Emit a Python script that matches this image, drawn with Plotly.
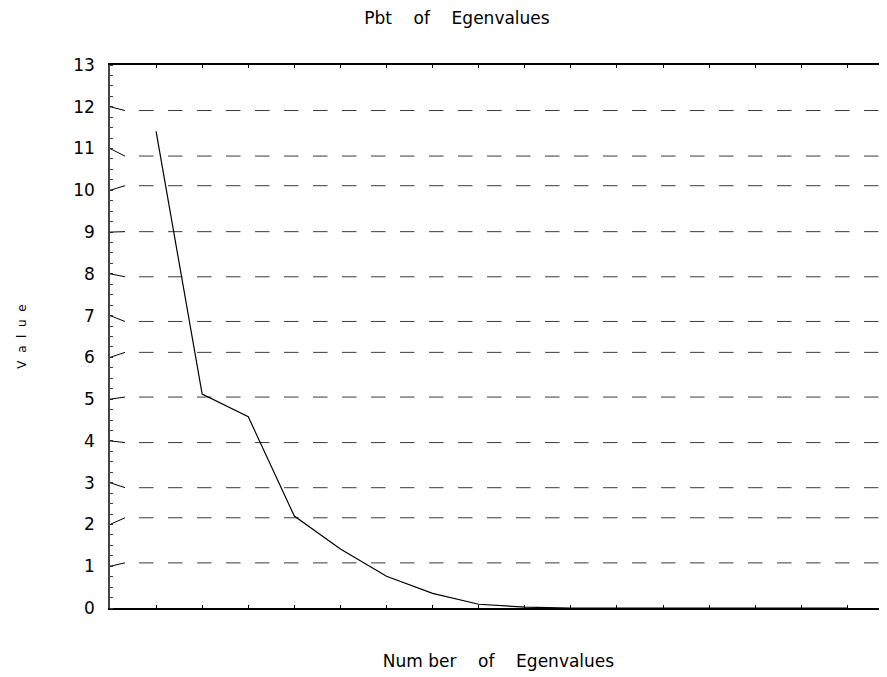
import plotly.graph_objects as go

# Data
component_numbers = list(range(1, 17))
eigenvalues = [11.41, 5.12, 4.58, 2.20, 1.41, 0.76, 0.35, 0.09, 0.02,
               0.0, 0.0, 0.0, 0.0, 0.0, 0.0, 0.0]
y_tick_values = list(range(0, 14))
y_tick_labels = [str(v) for v in y_tick_values]
# levels at which the dashed reference lines are drawn (as rendered in the source picture)
grid_tick_values = [1, 2, 3, 4, 5, 6, 7, 8, 9, 10, 11, 12]
grid_levels = [1.08, 2.16, 2.88, 3.96, 5.05, 6.12, 6.86, 7.93, 9.01, 10.11, 10.82, 11.91]

X_MAX = 16.86
FONT = "DejaVu Sans"
W, H = 879, 669  # page body adds an 8px offset

fig = go.Figure()
fig.add_trace(go.Scatter(
    x=component_numbers, y=eigenvalues, mode="lines",
    line=dict(color="black", width=1.2), showlegend=False, hoverinfo="x+y"))

shapes = []
for tv, gl in zip(grid_tick_values, grid_levels):
    shapes.append(dict(type="line", xref="x", yref="y", x0=0.63, x1=X_MAX, y0=gl, y1=gl,
                       line=dict(color="#3a3a3a", width=1, dash="14.5px,14.5px"), layer="below"))
    shapes.append(dict(type="line", xref="x", yref="y", x0=0, x1=0.325, y0=tv, y1=gl,
                       line=dict(color="black", width=1), layer="above"))

NB = "\u00a0"
fig.update_layout(
    width=W, height=H,
    margin=dict(l=102, r=0, t=57, b=69),
    paper_bgcolor="white", plot_bgcolor="white",
    font=dict(family=FONT, color="black"),
    title=dict(text=f"Pbt{NB*4}of{NB*4}Egenvalues", x=449 / W, xanchor="center",
               y=1 - 10 / H, yanchor="middle", font=dict(size=17, family=FONT)),
    shapes=shapes,
    xaxis=dict(range=[0, X_MAX], showgrid=False, zeroline=False, showticklabels=False,
               ticks="inside", tick0=0, dtick=1, ticklen=3, tickcolor="black",
               showline=True, linecolor="black", linewidth=1.5, mirror="ticks",
               title=dict(text=f"Num{NB}ber{NB*4}of{NB*4}Egenvalues",
                          font=dict(size=17, family=FONT), standoff=46),
               automargin=False),
    yaxis=dict(range=[0, 13], showgrid=False, zeroline=False,
               tickmode="array", tickvals=y_tick_values, ticktext=y_tick_labels,
               ticks="", tickfont=dict(size=17, family=FONT), ticklabelstandoff=10,
               showline=True, linecolor="#444", linewidth=1.5,
               minor=dict(dtick=0.25, tick0=0, ticks="inside", ticklen=3, tickcolor="#444"),
               title=dict(text=f"V{NB*2}a{NB*2}l{NB*2}u{NB*2}e", font=dict(size=12, family=FONT),
                          standoff=44),
               automargin=False),
)

fig.write_html("out.html")
